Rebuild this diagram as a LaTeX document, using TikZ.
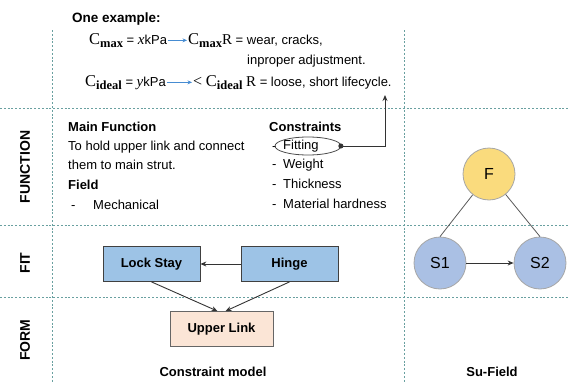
\documentclass[tikz,border=0pt]{standalone}
\usepackage{fontspec}
\setmainfont{Liberation Sans}
\newfontfamily\serifc{Liberation Serif}
\usetikzlibrary{arrows.meta}
\usetikzlibrary{positioning}
\usetikzlibrary{shapes.geometric}
\definecolor{mgrid}{RGB}{105,160,160}
\definecolor{mbox}{RGB}{157,195,230}
\definecolor{mlink}{RGB}{251,229,214}
\definecolor{mforce}{RGB}{250,219,125}
\definecolor{msub}{RGB}{170,192,228}
\definecolor{marrow}{RGB}{70,140,210}
\newcommand{\cvar}[1]{{\serifc\fontsize{16.5}{16.5}\selectfont C\raisebox{-3.5pt}{\fontsize{12.5}{12.5}\selectfont\bfseries #1}}}
\tikzset{
  grid/.style={draw=mgrid, line width=0.7pt, dash pattern=on 2pt off 1.8pt},
  txt/.style={anchor=base west, inner sep=0pt, font=\fontsize{13}{13}\selectfont},
  head/.style={txt, font=\fontsize{13}{13}\selectfont\bfseries},
  part/.style={draw=black!75, line width=0.8pt, minimum width=97pt, minimum height=35pt, font=\fontsize{13}{13}\selectfont\bfseries},
  sub/.style={circle, draw=black!35, line width=0.8pt, minimum size=52pt, inner sep=0pt, font=\fontsize{16}{16}\selectfont},
  conn/.style={draw=black!80, line width=0.9pt, -{Stealth[length=6pt,width=5pt]}},
  bluearr/.style={draw=marrow, line width=0.7pt, -{Stealth[length=4.5pt,width=4pt]}},
}

\begin{document}
\begin{tikzpicture}[x=1pt, y=-1pt]
      \useasboundingbox (0, 0) rectangle (568, 383);

      % dotted grid
      \draw [grid] (0, 108) -- (568, 108);
      \draw [grid] (0, 225) -- (568, 225);
      \draw [grid] (0, 297) -- (568, 297);
      \draw [grid] (52, 30) -- (52, 383);
      \draw [grid] (404, 30) -- (404, 383);

      % row labels
      \node [rotate=90, font=\fontsize{14}{14}\selectfont\bfseries] (rfun) at (25, 167) {FUNCTION};
      \node [rotate=90, font=\fontsize{14}{14}\selectfont\bfseries] (rfit) at (25, 263) {FIT};
      \node [rotate=90, font=\fontsize{14}{14}\selectfont\bfseries] (rform) at (25, 340) {FORM};

      % example
      \node [head, font=\fontsize{13.5}{13.5}\selectfont\bfseries] (ex) at (72, 22) {One example:};
      \node [txt, inner sep=1pt] (cmax) at (88, 44) {\cvar{max} = {\serifc\fontsize{15}{15}\selectfont\itshape x}kPa};
      \node [txt, inner sep=1pt] (cmaxr) at (187, 44) {\cvar{max}{\serifc\fontsize{15}{15}\selectfont R} = wear, cracks,};
      \node [txt] (cmaxr2) at (247, 64) {inproper adjustment.};
      \node [txt, inner sep=1pt] (cideal) at (84, 86) {\cvar{ideal} = {\serifc\fontsize{15}{15}\selectfont\itshape y}kPa};
      \node [txt, inner sep=1pt] (cidealr) at (192, 86) {{\serifc\fontsize{16}{16}\selectfont<} \cvar{ideal} {\serifc\fontsize{15}{15}\selectfont R} = loose, short lifecycle.};
      \draw [bluearr] (cmax) -- (cmaxr);
      \draw [bluearr] (cideal) -- (cidealr);

      % function
      \node [head] (mainf) at (68, 131.5) {Main Function};
      \node [txt] (hold1) at (68, 150.5) {To hold upper link and connect};
      \node [txt] (hold2) at (68, 169.5) {them to main strut.};
      \node [head] (field) at (68, 189.5) {Field};
      \node [txt] (fdash) at (71, 209.5) {-};
      \node [txt] (mech) at (93, 209.5) {Mechanical};

      \node [head] (cons) at (269, 131.5) {Constraints};
      \node [txt] (d1) at (272, 150) {-};
      \node [txt] (fitting) at (283, 149.5) {Fitting};
      \node [txt] (d2) at (272, 168.5) {-};
      \node [txt] (weight) at (283, 168.5) {Weight};
      \node [txt] (d3) at (272, 188.5) {-};
      \node [txt] (thick) at (283, 188.5) {Thickness};
      \node [txt] (d4) at (272, 208.5) {-};
      \node [txt] (hard) at (283, 208.5) {Material hardness};

      \node [ellipse, draw=black!70, line width=0.8pt, minimum width=66pt, minimum height=18pt, inner sep=0pt] (fitring) at (308, 146) {};
      \coordinate (tip) at (385, 95);
      \draw [draw=black!80, line width=0.9pt, {Circle[length=5pt]}-{Stealth[length=6pt,width=5pt]}] ([xshift=-3pt]fitring.east) -| (tip);

      % fit and form
      \node [part, fill=mbox] (lock) at (151.5, 264) {Lock Stay};
      \node [part, fill=mbox] (hinge) at (289.5, 264) {Hinge};
      \node [part, fill=mlink, draw=black!60, minimum width=103pt] (upper) at (221.5, 329) {Upper Link};
      \draw [conn] (hinge) -- (lock);
      \draw [conn] (lock.south) -- ([xshift=-4pt]upper.north);
      \draw [conn] (hinge.south) -- ([xshift=4pt]upper.north);

      % su-field
      \node [sub, fill=mforce] (f) at (489, 174) {F};
      \node [sub, fill=msub] (s1) at (440, 263) {S1};
      \node [sub, fill=msub] (s2) at (540, 263) {S2};
      \draw [draw=black!65, line width=0.8pt] (s1.north) -- (f);
      \draw [draw=black!65, line width=0.8pt] (s2.north) -- (f);
      \draw [conn] (s1) -- (s2);

      \node [font=\fontsize{13}{13}\selectfont\bfseries] (cmodel) at (213, 372) {Constraint model};
      \node [font=\fontsize{13}{13}\selectfont\bfseries] (sfield) at (492, 372) {Su-Field};
\end{tikzpicture}
\end{document}
